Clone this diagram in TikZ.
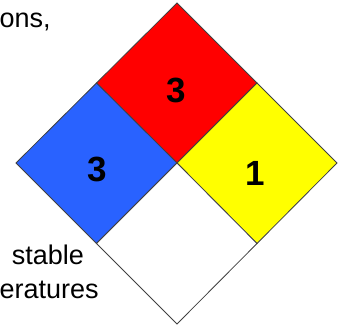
\documentclass[tikz,border=0pt]{standalone}
\usepackage{fontspec}
\setmainfont{Liberation Sans}
\usepackage{tikz}

\definecolor{healthblue}{RGB}{41,98,255}
\definecolor{firered}{RGB}{255,0,0}
\definecolor{reactyellow}{RGB}{255,255,0}

\begin{document}
\begin{tikzpicture}[x=1pt,y=-1pt]
		\useasboundingbox (0,0) rectangle (339,326);
		\clip (0,0) rectangle (339,326);
		
		\tikzstyle{quad} = [draw=black!75,line width=0.8pt,line join=miter]
		\coordinate (T) at (177,3);
		\coordinate (L) at (16,163);
		\coordinate (R) at (337,163);
		\coordinate (B) at (177,324);
		\coordinate (C) at (177,163);
		\coordinate (TL) at (96.5,83);
		\coordinate (TR) at (257,83);
		\coordinate (BL) at (96.5,243.5);
		\coordinate (BR) at (257,243.5);
		
		\filldraw [quad,fill=firered] (T) -- (TR) -- (C) -- (TL) -- cycle;
		\filldraw [quad,fill=healthblue] (TL) -- (C) -- (BL) -- (L) -- cycle;
		\filldraw [quad,fill=reactyellow] (TR) -- (R) -- (BR) -- (C) -- cycle;
		\filldraw [quad,fill=white] (C) -- (BR) -- (B) -- (BL) -- cycle;
		
		\begin{scope}[every node/.style={inner sep=0pt,font=\fontsize{35}{35}\selectfont\bfseries}]
			\node (fire) at (176,90) {3};
			\node (health) at (97.5,169) {3};
			\node (react) at (255,173.5) {1};
		\end{scope}
		
		\begin{scope}[every node/.style={inner sep=0pt,font=\fontsize{27}{27}\selectfont}]
			\node[anchor=base west] (cond) at (-0.5,28) {ons,};
			\node[anchor=base east] (stab) at (84,264) {stable};
			\node[anchor=base west] (temp) at (-0.5,298) {eratures};
		\end{scope}
		
	\end{tikzpicture}
\end{document}
